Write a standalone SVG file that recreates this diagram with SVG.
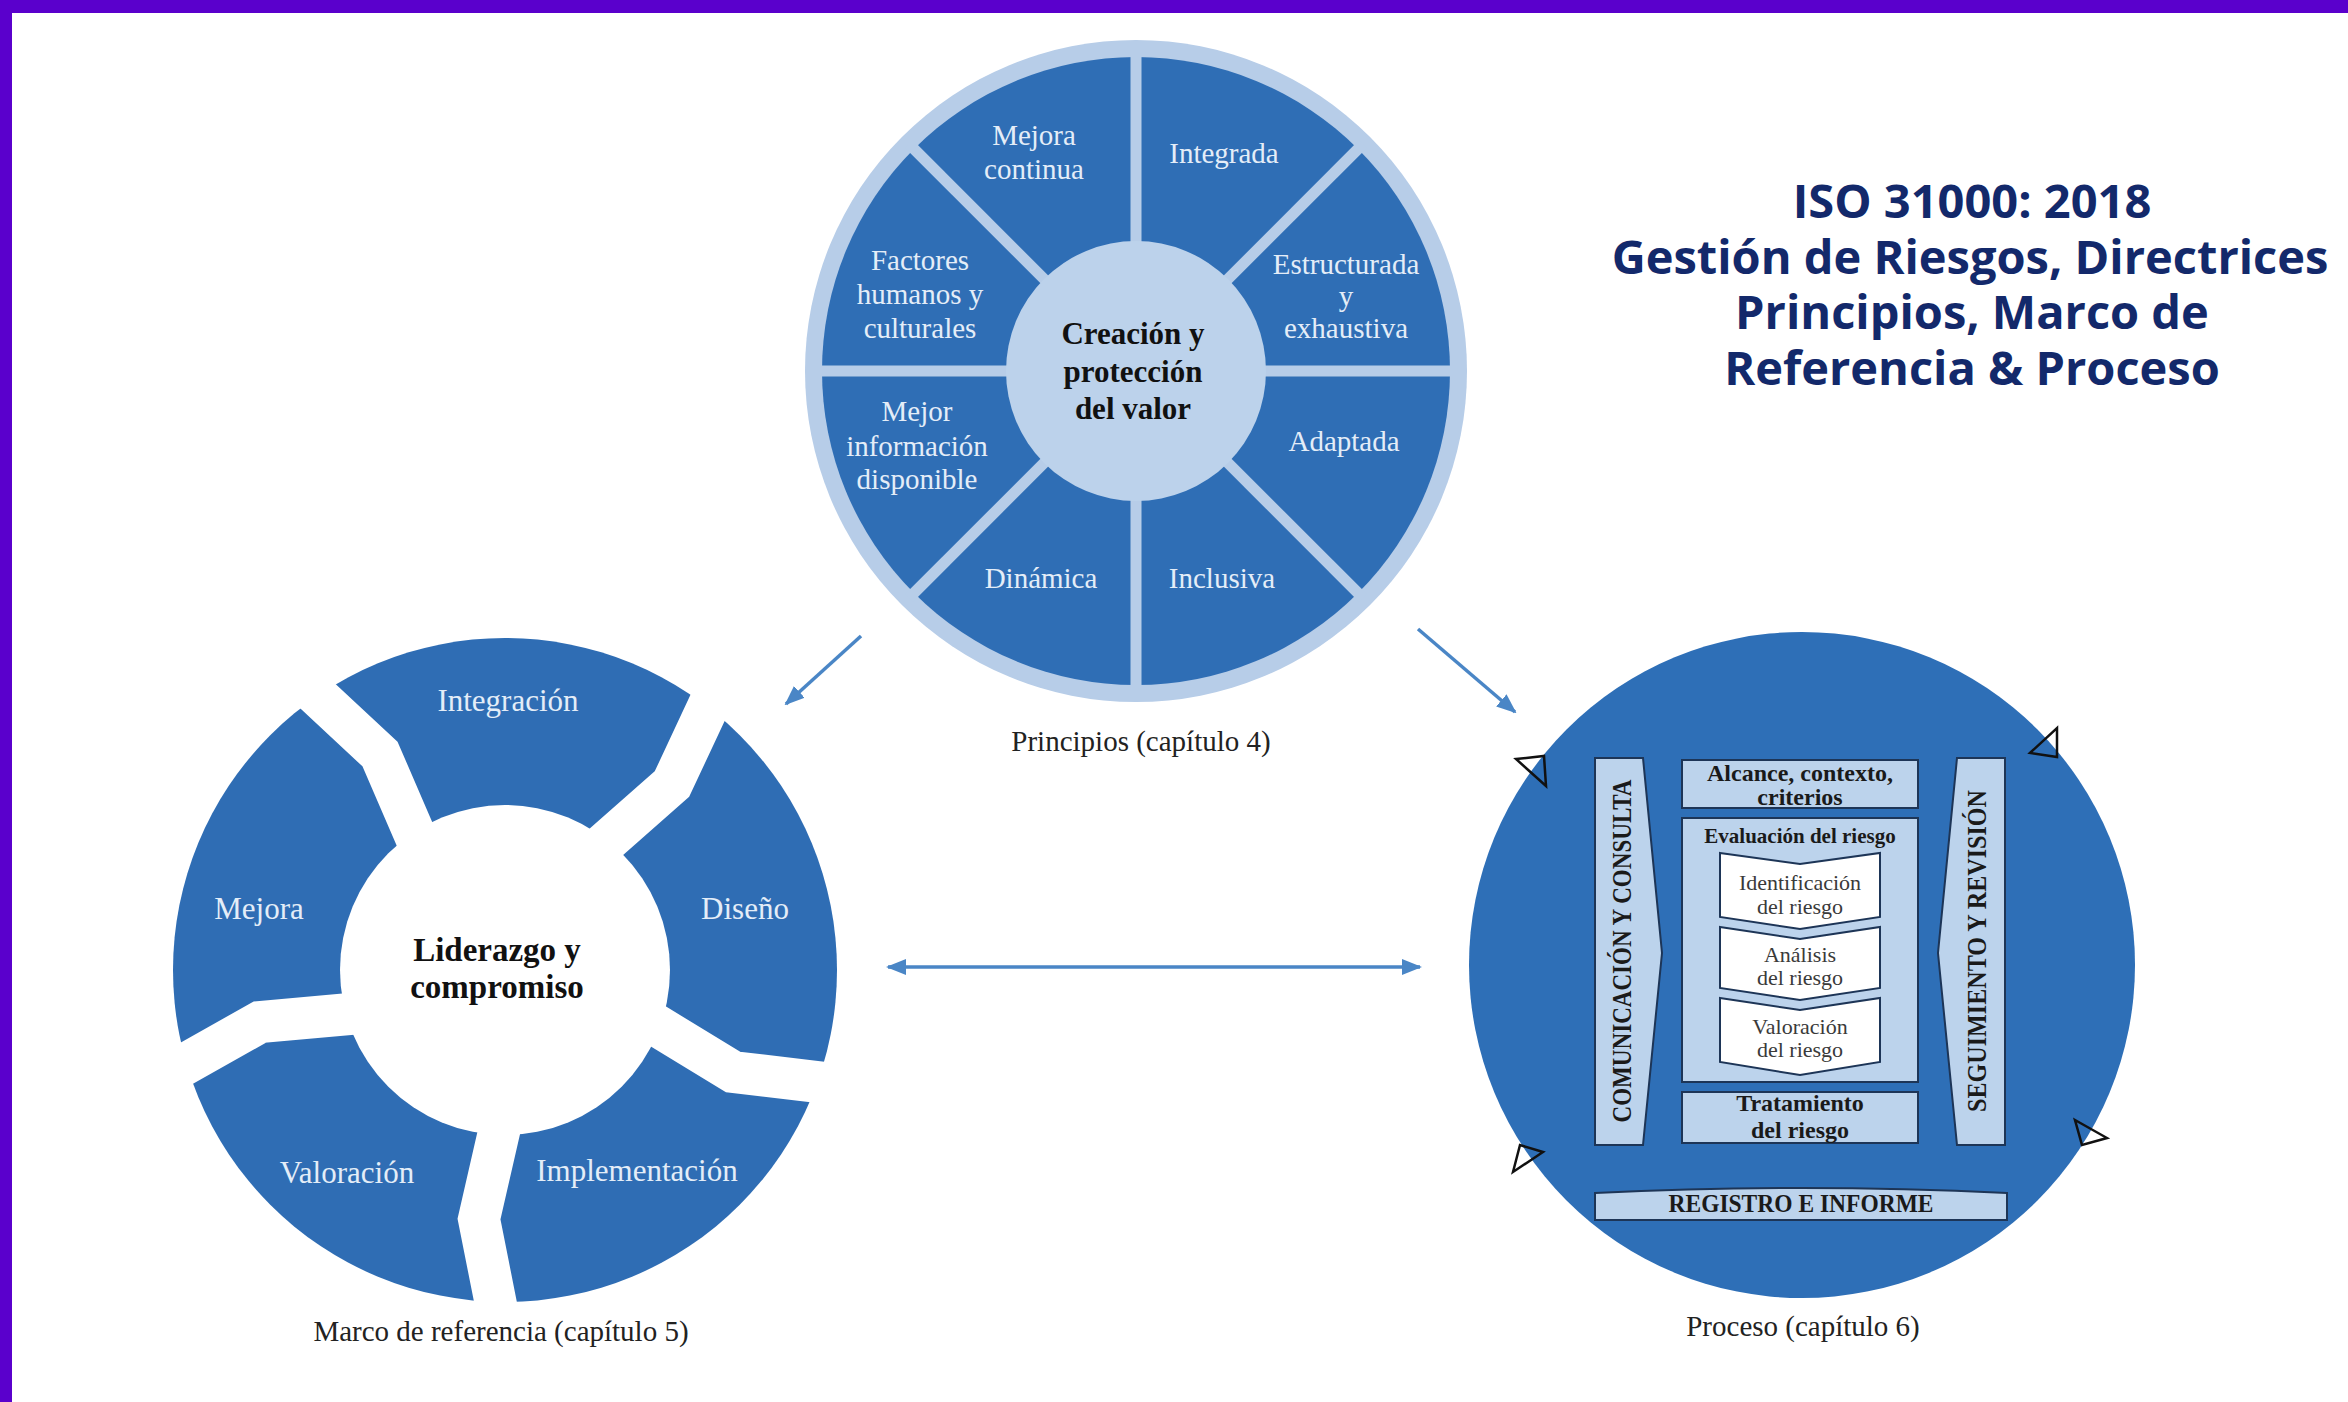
<svg xmlns="http://www.w3.org/2000/svg" width="2348" height="1402" viewBox="0 0 2348 1402">
<defs>
<style>
.lbl{font-family:"Liberation Serif","DejaVu Serif",serif;font-size:29px;fill:#e4edf8;text-anchor:middle}
.lbl2{font-family:"Liberation Serif","DejaVu Serif",serif;font-size:31px;fill:#e4edf8;text-anchor:middle}
.ctr{font-family:"Liberation Serif","DejaVu Serif",serif;font-size:31px;font-weight:bold;fill:#111;text-anchor:middle}
.cap{font-family:"Liberation Serif","DejaVu Serif",serif;font-size:29px;fill:#222;text-anchor:middle}
.pb{font-family:"Liberation Serif","DejaVu Serif",serif;font-weight:bold;fill:#1a1a1a;text-anchor:middle}
.pr{font-family:"Liberation Serif","DejaVu Serif",serif;font-size:22px;fill:#3a3a3a;text-anchor:middle}
.ttl{font-family:"Open Sans","Noto Sans",sans-serif;font-size:47px;font-weight:bold;fill:#13296b;text-anchor:middle}
.box{fill:#bcd3ec;stroke:#1d3557;stroke-width:2}
.chev{fill:#ffffff;stroke:#1d3557;stroke-width:2}
.tri{fill:none;stroke:#111;stroke-width:2.5;stroke-linejoin:miter}
.arr{stroke:#4a86c6;stroke-width:3.5;fill:none}
.gap{stroke:#ffffff;stroke-width:42;fill:none;stroke-linejoin:miter;stroke-miterlimit:10}
.sep{stroke:#b7cde8;stroke-width:11}
</style>
<marker id="ah" markerUnits="userSpaceOnUse" markerWidth="20" markerHeight="16" refX="18" refY="8" orient="auto-start-reverse">
<path d="M0,0 L20,8 L0,16 Z" fill="#4a86c6"/>
</marker>
</defs>
<rect x="0" y="0" width="2348" height="1402" fill="#ffffff"/>
<rect x="0" y="0" width="2348" height="13" fill="#5a00cc"/>
<rect x="0" y="0" width="12" height="1402" fill="#5a00cc"/>

<g id="title">
<text class="ttl" x="1972" y="218">ISO 31000: 2018</text>
<text class="ttl" x="1970" y="274">Gestión de Riesgos, Directrices</text>
<text class="ttl" x="1972" y="329">Principios, Marco de</text>
<text class="ttl" x="1972" y="385">Referencia &amp; Proceso</text>
</g>

<g id="principios">
<circle cx="1136" cy="371" r="331" fill="#b7cde8"/>
<circle cx="1136" cy="371" r="314" fill="#2f6eb5"/>
<line class="sep" x1="1136" y1="50" x2="1136" y2="692"/>
<line class="sep" x1="815" y1="371" x2="1457" y2="371"/>
<line class="sep" x1="909" y1="144" x2="1363" y2="598"/>
<line class="sep" x1="1363" y1="144" x2="909" y2="598"/>
<circle cx="1136" cy="371" r="130" fill="#bcd2eb"/>
<text class="lbl" x="1034" y="145">Mejora</text>
<text class="lbl" x="1034" y="179">continua</text>
<text class="lbl" x="1224" y="163">Integrada</text>
<text class="lbl" x="1346" y="274">Estructurada</text>
<text class="lbl" x="1346" y="306">y</text>
<text class="lbl" x="1346" y="338">exhaustiva</text>
<text class="lbl" x="920" y="270">Factores</text>
<text class="lbl" x="920" y="304">humanos y</text>
<text class="lbl" x="920" y="338">culturales</text>
<text class="lbl" x="917" y="421">Mejor</text>
<text class="lbl" x="917" y="456">información</text>
<text class="lbl" x="917" y="489">disponible</text>
<text class="lbl" x="1344" y="451">Adaptada</text>
<text class="lbl" x="1041" y="588">Dinámica</text>
<text class="lbl" x="1222" y="588">Inclusiva</text>
<text class="ctr" x="1133" y="344">Creación y</text>
<text class="ctr" x="1133" y="382">protección</text>
<text class="ctr" x="1133" y="419">del valor</text>
<text class="cap" x="1141" y="751">Principios (capítulo 4)</text>
</g>

<g id="marco">
<circle cx="505" cy="970" r="332" fill="#2f6db4"/>
<polyline class="gap" points="157,1080 260,1022 372,1012"/>
<polyline class="gap" points="293,673 380,754 424,856"/>
<polyline class="gap" points="722,677 672,784 588,858"/>
<polyline class="gap" points="851,1086 733,1072 638,1014"/>
<polyline class="gap" points="502,1335 479,1219 504,1110"/>
<circle cx="505" cy="970" r="165" fill="#ffffff"/>
<text class="lbl2" x="508" y="711">Integración</text>
<text class="lbl2" x="259" y="919">Mejora</text>
<text class="lbl2" x="745" y="919">Diseño</text>
<text class="lbl2" x="347" y="1183">Valoración</text>
<text class="lbl2" x="637" y="1181">Implementación</text>
<text class="ctr" x="497" y="961" style="font-size:33px">Liderazgo y</text>
<text class="ctr" x="497" y="998" style="font-size:33px">compromiso</text>
<text class="cap" x="501" y="1341">Marco de referencia (capítulo 5)</text>
</g>

<g id="proceso">
<circle cx="1802" cy="965" r="333" fill="#2e6fb7"/>
<path class="box" d="M1595,758 L1643,758 L1662,953 L1643,1145 L1595,1145 Z"/>
<path class="box" d="M2005,758 L1957,758 L1938,953 L1957,1145 L2005,1145 Z"/>
<rect class="box" x="1682" y="760" width="236" height="48"/>
<rect class="box" x="1682" y="818" width="236" height="264"/>
<path class="chev" d="M1720,853 L1800,864 L1880,853 L1880,917 L1800,929 L1720,917 Z"/>
<path class="chev" d="M1720,927 L1800,939 L1880,927 L1880,988 L1800,1000 L1720,988 Z"/>
<path class="chev" d="M1720,998 L1800,1010 L1880,998 L1880,1062 L1800,1075 L1720,1062 Z"/>
<rect class="box" x="1682" y="1092" width="236" height="51"/>
<path class="box" d="M1595,1193 Q1801,1183 2007,1193 L2007,1220 L1595,1220 Z"/>
<text class="pb" x="1800" y="781" style="font-size:24px">Alcance, contexto,</text>
<text class="pb" x="1800" y="805" style="font-size:24px">criterios</text>
<text class="pb" x="1800" y="843" style="font-size:21px">Evaluación del riesgo</text>
<text class="pr" x="1800" y="890">Identificación</text>
<text class="pr" x="1800" y="914">del riesgo</text>
<text class="pr" x="1800" y="962">Análisis</text>
<text class="pr" x="1800" y="985">del riesgo</text>
<text class="pr" x="1800" y="1034">Valoración</text>
<text class="pr" x="1800" y="1057">del riesgo</text>
<text class="pb" x="1800" y="1111" style="font-size:24px">Tratamiento</text>
<text class="pb" x="1800" y="1138" style="font-size:24px">del riesgo</text>
<text class="pb" x="1801" y="1212" style="font-size:25px" textLength="265" lengthAdjust="spacingAndGlyphs">REGISTRO E INFORME</text>
<text class="pb" transform="translate(1622,951) rotate(-90)" x="0" y="9" style="font-size:27px" textLength="343" lengthAdjust="spacingAndGlyphs">COMUNICACIÓN Y CONSULTA</text>
<text class="pb" transform="translate(1977,951) rotate(-90)" x="0" y="9" style="font-size:27px" textLength="322" lengthAdjust="spacingAndGlyphs">SEGUIMIENTO Y REVISIÓN</text>
<path class="tri" d="M1516,759 L1544,756 L1546,786 Z"/>
<path class="tri" d="M2057,728 L2057,757 L2030,753 Z"/>
<path class="tri" d="M1513,1172 L1520,1145 L1543,1152 Z"/>
<path class="tri" d="M2075,1120 L2107,1138 L2082,1145 Z"/>
<text class="cap" x="1803" y="1336">Proceso (capítulo 6)</text>
</g>

<g id="connectors">
<line class="arr" x1="861" y1="636" x2="786" y2="704" marker-end="url(#ah)"/>
<line class="arr" x1="1418" y1="629" x2="1515" y2="712" marker-end="url(#ah)"/>
<line class="arr" x1="888" y1="967" x2="1420" y2="967" marker-start="url(#ah)" marker-end="url(#ah)"/>
</g>
</svg>
